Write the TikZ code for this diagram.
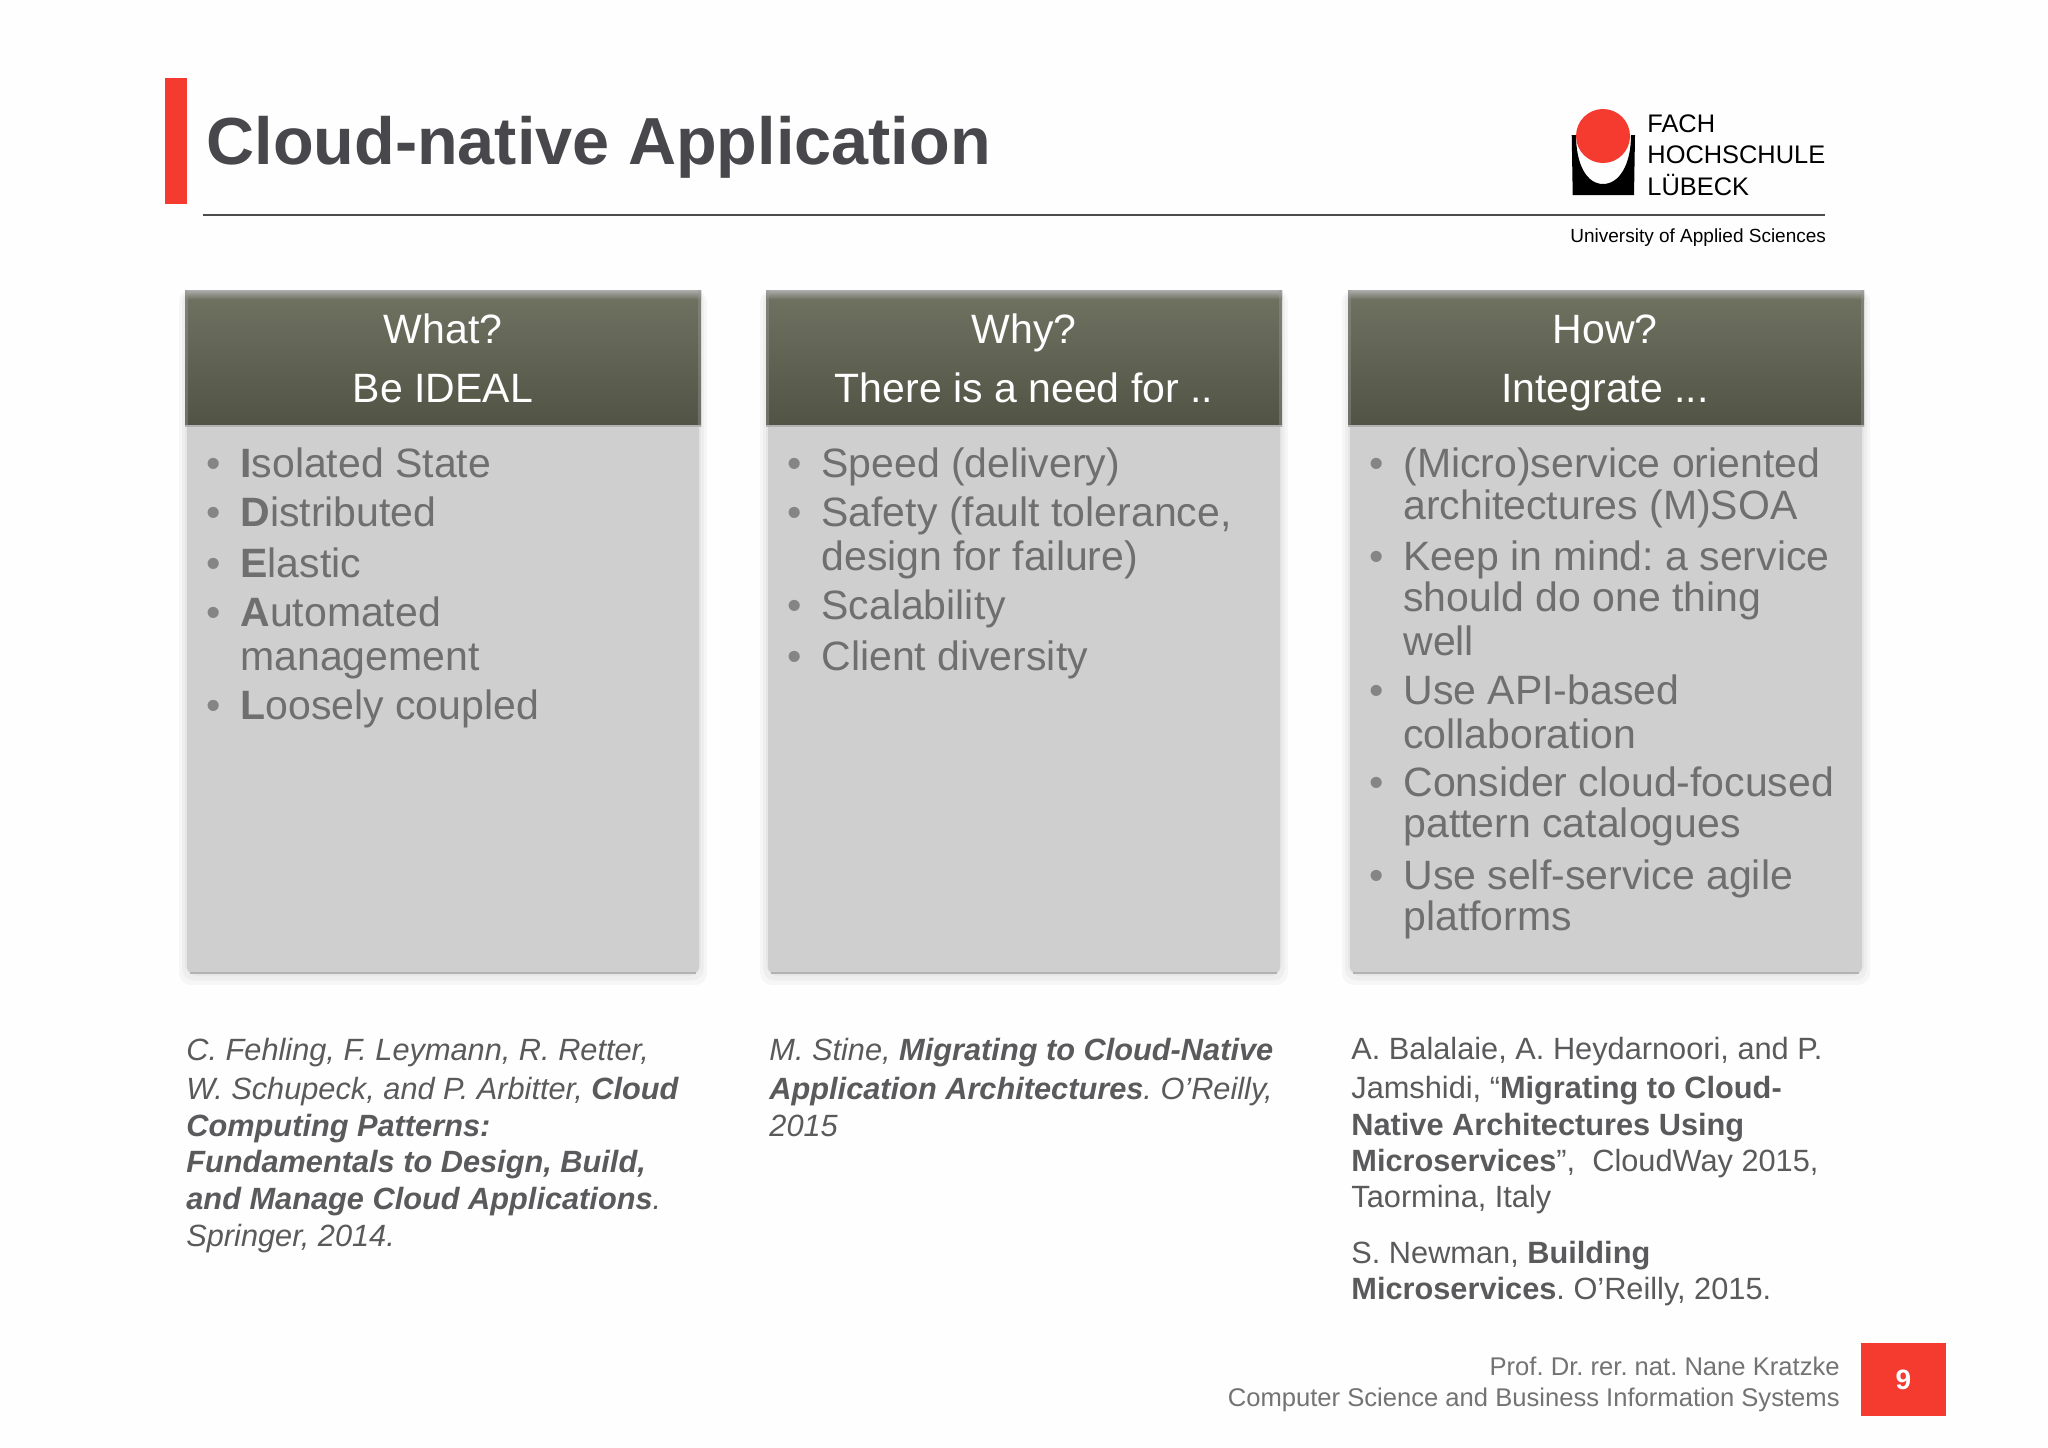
\documentclass[tikz,border=0pt]{standalone}
\usepackage{fontspec}
\setmainfont{Liberation Sans}
\usepackage{xcolor}
\definecolor{fhred}{HTML}{F53A30}
\definecolor{headtop}{HTML}{707362}
\definecolor{headbot}{HTML}{515344}
\definecolor{bodygrey}{HTML}{D0CFCF}
\definecolor{bodytext}{HTML}{6F6F6F}
\definecolor{reftext}{HTML}{5A5A5C}
\definecolor{titlegrey}{HTML}{48484C}
\tikzset{
  listline/.style={anchor=base west, inner sep=0pt, text=bodytext, font=\fontsize{20.5}{24}\selectfont},
  dotmark/.style={anchor=base, inner sep=0pt, text=bodytext!85, font=\fontsize{20.5}{24}\selectfont},
  headline/.style={anchor=base, inner sep=0pt, text=white, font=\fontsize{20.5}{24}\selectfont},
  refline/.style={anchor=base west, inner sep=0pt, text=reftext, font=\fontsize{15.37}{20}\selectfont},
  footline/.style={anchor=base east, inner sep=0pt, text=black!55, font=\fontsize{12.8}{16}\selectfont},
  logoline/.style={anchor=base west, inner sep=0pt, text=black, font=\fontsize{12.7}{16}\selectfont}
}
\frenchspacing
\begin{document}
\begin{tikzpicture}[x=0.5pt,y=-0.5pt]
\useasboundingbox (0,0) rectangle (2048,1447);
\fill [white!99.5!black] (0,0) rectangle (2048,1447);
% title bar and logo
\fill [fhred] (165,78) rectangle (187,204);
\node [anchor=base west, inner sep=0pt, text=titlegrey, font=\fontsize{33.3}{38}\selectfont\bfseries] (title) at (206,164.7) {Cloud-native Application};
\draw [line width=1pt, black!70] (203,215)--(1825,215);
\fill [black] (1571.7,135)--(1572.7,195)--(1634,195)--(1635,135)--(1631,135) .. controls (1631,165) and (1619,184) .. (1603,184) .. controls (1587,184) and (1576,165) .. (1576,135)--cycle;
\fill [fhred] (1603,136) circle (27);
\node [logoline] (fach) at (1647,132) {FACH};
\node [logoline] (hochschule) at (1647,163) {HOCHSCHULE};
\node [logoline] (luebeck) at (1647,195) {LÜBECK};
\node [anchor=base west, inner sep=0pt, font=\fontsize{9.5}{11}\selectfont] (university) at (1570,242) {University of Applied Sciences};
% the three boxes
\foreach \boxleft in {185,766,1348} {
  \foreach \spread in {8,5,2} {
    \fill [black, opacity=0.03, rounded corners=6] (\boxleft-\spread+2,290) rectangle (\boxleft+514+\spread,973+\spread*1.5);
  }
  \fill [bodygrey, rounded corners=3] (\boxleft+2,415) rectangle (\boxleft+514,973);
  \draw [black!30, line width=1.2pt] (\boxleft+5,973)--(\boxleft+511,973);
  \shade [top color=headtop, bottom color=headbot] (\boxleft,290) rectangle (\boxleft+516,426);
  \shade [top color=black!32, bottom color=headtop] (\boxleft,290) rectangle (\boxleft+516,299);
  \fill [black!40, opacity=0.4] (\boxleft,290) rectangle (\boxleft+3,426);
  \fill [black!40, opacity=0.4] (\boxleft+513,290) rectangle (\boxleft+516,426);
  \draw [black!30, line width=0.6pt] (\boxleft,426)--(\boxleft+516,426);
}
\node [headline] (what) at (443,343) {What?};
\node [headline] (ideal) at (443,402) {Be IDEAL};
\node [headline] (why) at (1024,343) {Why?};
\node [headline] (need) at (1024,402) {There is a need for ..};
\node [headline] (how) at (1605,343) {How?};
\node [headline] (integrate) at (1605,402) {Integrate ...};
% first column
\foreach \ypos/\txt [count=\i] in {477/{\textbf{I}solated State},526/{\textbf{D}istributed},577/{\textbf{E}lastic},626/{\textbf{A}utomated},670/{management},719/{\textbf{L}oosely coupled}} {
  \node [listline] (what\i) at (240,\ypos) {\txt};
}
\foreach \ypos [count=\i] in {477,526,577,626,719} {
  \node [dotmark] (whatdot\i) at (213.5,\ypos) {•};
}
% second column
\foreach \ypos/\txt [count=\i] in {477/{Speed (delivery)},526/{Safety (fault tolerance,},570/{design for failure)},619/{Scalability},670/{Client diversity}} {
  \node [listline] (why\i) at (821,\ypos) {\txt};
}
\foreach \ypos [count=\i] in {477,526,619,670} {
  \node [dotmark] (whydot\i) at (795,\ypos) {•};
}
% third column
\foreach \ypos/\txt [count=\i] in {477/{(Micro)service oriented},519/{architectures (M)SOA},570/{Keep in mind: a service},611/{should do one thing},655/{well},704/{Use API-based},748/{collaboration},796/{Consider cloud-focused},837/{pattern catalogues},889/{Use self-service agile},930/{platforms}} {
  \node [listline] (how\i) at (1403,\ypos) {\txt};
}
\foreach \ypos [count=\i] in {477,570,704,796,889} {
  \node [dotmark] (howdot\i) at (1376.5,\ypos) {•};
}
% references
\foreach \ypos/\txt [count=\i] in {1060/{C. Fehling, F. Leymann, R. Retter,},1099/{W. Schupeck, and P. Arbitter, \textbf{Cloud}},1136/{\textbf{Computing Patterns:}},1172/{\textbf{Fundamentals to Design, Build,}},1209/{\textbf{and Manage Cloud Applications}.},1246/{Springer, 2014.}} {
  \node [refline, font=\fontsize{15.37}{20}\selectfont\itshape] (refa\i) at (186,\ypos) {\txt};
}
\foreach \ypos/\txt [count=\i] in {1060/{M. Stine, \textbf{Migrating to Cloud-Native}},1099/{\textbf{Application Architectures}. O’Reilly,},1136/{2015}} {
  \node [refline, font=\fontsize{15.37}{20}\selectfont\itshape] (refb\i) at (769,\ypos) {\txt};
}
\foreach \ypos/\txt [count=\i] in {1059/{A. Balalaie, A. Heydarnoori, and P.},1098/{Jamshidi, “\textbf{Migrating to Cloud-}},1135/{\textbf{Native Architectures Using}},1171/{\textbf{Microservices}”,~ CloudWay 2015,},1207.5/{Taormina, Italy},1263/{S. Newman, \textbf{Building}},1299/{\textbf{Microservices}. O’Reilly, 2015.}} {
  \node [refline] (refc\i) at (1351,\ypos) {\txt};
}
% footer
\node [footline] (prof) at (1840,1375) {Prof. Dr. rer. nat. Nane Kratzke};
\node [footline] (dept) at (1840,1406) {Computer Science and Business Information Systems};
\fill [fhred] (1861,1343) rectangle (1946,1416);
\node [text=white, inner sep=0pt, font=\fontsize{14}{16}\selectfont\bfseries] (pagenum) at (1903.5,1380) {9};
\end{tikzpicture}
\end{document}
